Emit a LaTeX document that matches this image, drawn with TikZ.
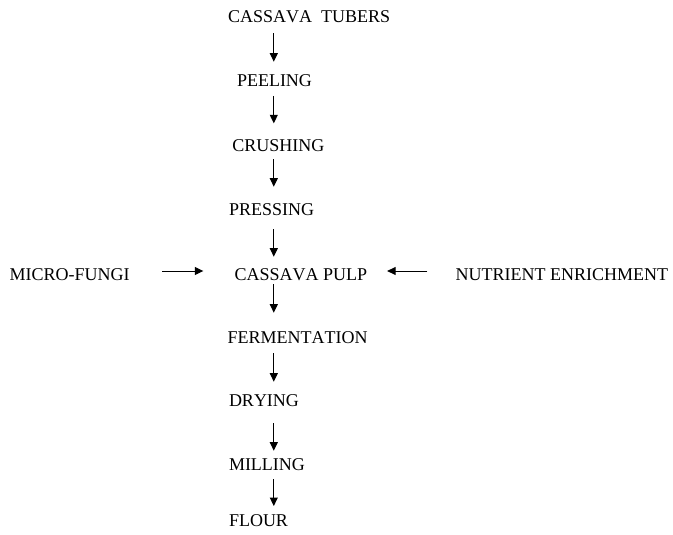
\documentclass[tikz,border=0pt]{standalone}
\usepackage{fontspec}
\setmainfont[Kerning=Off]{Liberation Serif}
\usetikzlibrary{arrows.meta,calc}
\begin{document}
\begin{tikzpicture}[x=1pt,y=-1pt,
  lbl/.style={anchor=base west,inner sep=0pt,font=\fontsize{18}{20}\selectfont},
  arr/.style={line width=1pt,-{Triangle[length=8.5pt,width=8pt]}}]
\useasboundingbox (0,0) rectangle (673,535);
\coordinate (ax) at (273.8,0);
\node[lbl] (n1) at (227.8,22.7) {CASSAVA\hspace{4.5pt} TUBERS};
\node[lbl] (n2) at (236.8,87) {PEELING};
\node[lbl] (n3) at (232.2,151) {CRUSHING};
\node[lbl] (n4) at (228.8,215.7) {PRESSING};
\node[lbl] (n5) at (234.5,280) {CASSAVA PULP};
\node[lbl] (n6) at (227.5,343.3) {FERMENTATION};
\node[lbl] (n7) at (228.8,406.7) {DRYING};
\node[lbl] (n8) at (228.8,470.7) {MILLING};
\node[lbl] (n9) at (228.8,526.7) {FLOUR};
\node[lbl] (mf) at (9.5,280) {MICRO-FUNGI};
\node[lbl] (ne) at (455.5,280) {NUTRIENT ENRICHMENT};
\draw[arr] ($(n1.base -| ax)+(0,10.6)$) -- ($(n2.base -| ax)+(0,-25.3)$);
\draw[arr] ($(n2.base -| ax)+(0,9)$) -- ($(n3.base -| ax)+(0,-27.7)$);
\draw[arr] ($(n3.base -| ax)+(0,8)$) -- ($(n4.base -| ax)+(0,-29)$);
\draw[arr] ($(n4.base -| ax)+(0,13.6)$) -- ($(n5.base -| ax)+(0,-23.3)$);
\draw[arr] ($(n5.base -| ax)+(0,4.3)$) -- ($(n6.base -| ax)+(0,-30.6)$);
\draw[arr] ($(n6.base -| ax)+(0,10)$) -- ($(n7.base -| ax)+(0,-25)$);
\draw[arr] ($(n7.base -| ax)+(0,16.3)$) -- ($(n8.base -| ax)+(0,-20)$);
\draw[arr] ($(n8.base -| ax)+(0,8.6)$) -- ($(n9.base -| ax)+(0,-20.7)$);
\draw[arr] ($(mf.base west)+(152.8,-9)$) -- ($(n5.base west)+(-31.2,-9)$);
\draw[arr] ($(ne.base west)+(-28.2,-9)$) -- ($(n5.base east)+(19.7,-9)$);
\end{tikzpicture}
\end{document}
